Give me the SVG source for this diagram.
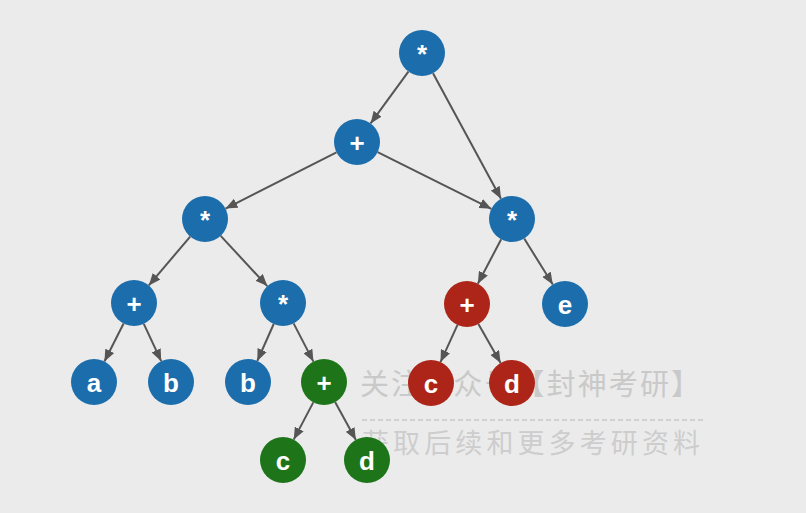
<svg xmlns="http://www.w3.org/2000/svg" width="806" height="513" viewBox="0 0 806 513">
<defs>
<marker id="arr" viewBox="0 0 12 10" refX="12" refY="5" markerWidth="12" markerHeight="10" markerUnits="userSpaceOnUse" orient="auto">
<path d="M0,0 L12,5 L0,10 z" fill="#555"/>
</marker>
</defs>
<style>
.bg{fill:#ebebeb}
.e{stroke:#555;stroke-width:2;fill:none;marker-end:url(#arr)}
.blue{fill:#1b6dac}
.green{fill:#1d7419}
.red{fill:#ad2519}
.lbl{fill:#fff;font-family:"Liberation Sans",Arial,sans-serif;font-weight:bold;font-size:26px;text-anchor:middle}
.wm{fill:#c9c9c9;font-family:"Noto Sans CJK SC","Noto Sans",sans-serif;font-size:29px}
</style>
<rect class="bg" x="0" y="0" width="806" height="513"/>
<g id="watermark">
<text class="wm" x="360" y="395" textLength="340">关注公众号【封神考研】</text>
<line x1="362" y1="420" x2="703" y2="420" stroke="#c9c9c9" stroke-width="1.5" stroke-dasharray="5 3"/>
<text class="wm" x="362" y="453" textLength="338" style="font-size:27px;fill:#cdcdcd">获取后续和更多考研资料</text>
</g>
<g id="connectors">
<line class="e" x1="408.4" y1="71.6" x2="370.6" y2="123.4"/>
<line class="e" x1="433" y1="73.2" x2="501" y2="198.8"/>
<line class="e" x1="336.5" y1="152.4" x2="225.5" y2="208.6"/>
<line class="e" x1="377.6" y1="152.2" x2="491.4" y2="208.8"/>
<line class="e" x1="190.2" y1="236.6" x2="148.8" y2="285.4"/>
<line class="e" x1="220.7" y1="235.9" x2="267.3" y2="286.1"/>
<line class="e" x1="123.6" y1="323.5" x2="104.4" y2="361.5"/>
<line class="e" x1="143.8" y1="323.8" x2="161.2" y2="361.2"/>
<line class="e" x1="273.7" y1="324" x2="257.3" y2="361"/>
<line class="e" x1="293.6" y1="323.4" x2="313.4" y2="361.6"/>
<line class="e" x1="313.3" y1="402.4" x2="293.7" y2="439.6"/>
<line class="e" x1="335.1" y1="402.1" x2="355.9" y2="439.9"/>
<line class="e" x1="501.2" y1="239.3" x2="477.8" y2="283.7"/>
<line class="e" x1="524.2" y1="238.5" x2="552.8" y2="284.5"/>
<line class="e" x1="457.5" y1="324.9" x2="440.5" y2="362.1"/>
<line class="e" x1="478.4" y1="324" x2="500.6" y2="363"/>
</g>
<g id="n_root"><circle class="blue" cx="422" cy="53" r="23"/><text class="lbl" x="422" y="62.5">*</text></g>
<g id="n_plus1"><circle class="blue" cx="357" cy="142" r="23"/><text class="lbl" x="357" y="151.5">+</text></g>
<g id="n_mulL"><circle class="blue" cx="205" cy="219" r="23"/><text class="lbl" x="205" y="228.5">*</text></g>
<g id="n_mulR"><circle class="blue" cx="512" cy="219" r="23"/><text class="lbl" x="512" y="228.5">*</text></g>
<g id="n_plusL"><circle class="blue" cx="134" cy="303" r="23"/><text class="lbl" x="134" y="312.5">+</text></g>
<g id="n_mulM"><circle class="blue" cx="283" cy="303" r="23"/><text class="lbl" x="283" y="312.5">*</text></g>
<g id="n_plusRed"><circle class="red" cx="467" cy="304" r="23"/><text class="lbl" x="467" y="313.5">+</text></g>
<g id="n_e"><circle class="blue" cx="565" cy="304" r="23"/><text class="lbl" x="565" y="313.5">e</text></g>
<g id="n_a"><circle class="blue" cx="94" cy="382" r="23"/><text class="lbl" x="94" y="391.5">a</text></g>
<g id="n_b1"><circle class="blue" cx="171" cy="382" r="23"/><text class="lbl" x="171" y="391.5">b</text></g>
<g id="n_b2"><circle class="blue" cx="248" cy="382" r="23"/><text class="lbl" x="248" y="391.5">b</text></g>
<g id="n_plusGreen"><circle class="green" cx="324" cy="382" r="23"/><text class="lbl" x="324" y="391.5">+</text></g>
<g id="n_cRed"><circle class="red" cx="431" cy="383" r="23"/><text class="lbl" x="431" y="392.5">c</text></g>
<g id="n_dRed"><circle class="red" cx="512" cy="383" r="23"/><text class="lbl" x="512" y="392.5">d</text></g>
<g id="n_cGreen"><circle class="green" cx="283" cy="460" r="23"/><text class="lbl" x="283" y="469.5">c</text></g>
<g id="n_dGreen"><circle class="green" cx="367" cy="460" r="23"/><text class="lbl" x="367" y="469.5">d</text></g>
</svg>
